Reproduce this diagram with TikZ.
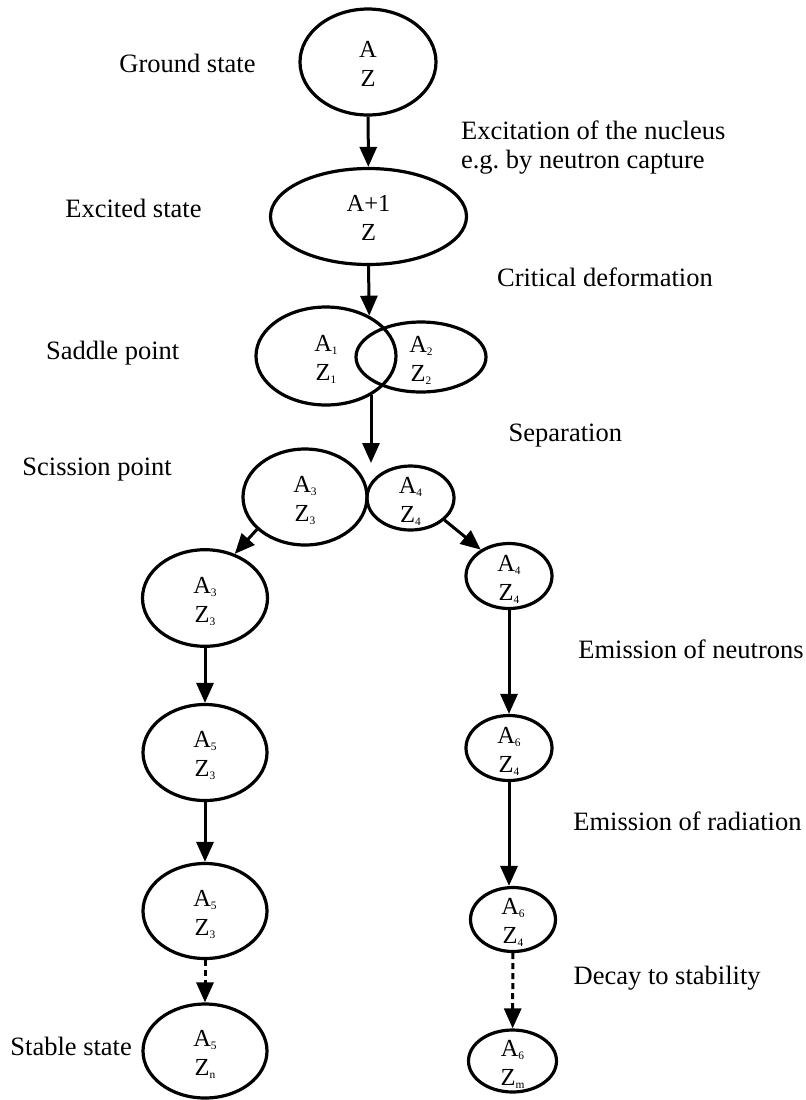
\documentclass[tikz,border=0pt]{standalone}
\usepackage{fontspec}
\setmainfont{Liberation Serif}
\usetikzlibrary{shapes.geometric,arrows.meta}
\frenchspacing
\newcommand{\labfont}{\fontsize{13.25pt}{14.5pt}\selectfont}
\newcommand{\nucfont}{\fontsize{12.25pt}{14.5pt}\selectfont}
\newcommand{\isub}[1]{\raisebox{-1.6pt}{\fontsize{5.7pt}{6pt}\selectfont #1}}
\newcommand{\nuc}[2]{\smash{\raisebox{2.5pt}{\begin{tabular}[t]{@{}c@{}}#1\\#2\end{tabular}}}}
\tikzset{
	nucleus/.style={draw,ellipse,line width=1.6pt,inner sep=0pt,font=\nucfont},
	stage/.style={anchor=base west,inner sep=0pt},
	flow/.style={->,line width=1.5pt},
}
\begin{document}
\begin{tikzpicture}[x=0.5pt,y=-0.5pt,>={Triangle[length=10pt,width=8.5pt]},font=\labfont]
	\useasboundingbox (0,0) rectangle (806,1100);
	% nuclei
	\node[nucleus,minimum width=68pt,minimum height=53pt] (ground) at (368,62) {\nuc{A}{Z}};
	\node[nucleus,minimum width=98pt,minimum height=48pt] (excited) at (368.5,216.5) {\nuc{A+1}{Z}};
	\node[nucleus,minimum width=70pt,minimum height=49pt] (saddleL) at (326,356) {\nuc{A\isub{1}}{Z\isub{1}}};
	\node[nucleus,minimum width=65pt,minimum height=35pt] (saddleR) at (421,357) {\nuc{A\isub{2}}{Z\isub{2}}};
	\node[nucleus,minimum width=62pt,minimum height=48pt] (scisL) at (305,497) {\nuc{A\isub{3}}{Z\isub{3}}};
	\node[nucleus,minimum width=43.5pt,minimum height=32pt] (scisR) at (410.5,498) {\nuc{A\isub{4}}{Z\isub{4}}};
	\node[nucleus,minimum width=62.5pt,minimum height=48.3pt] (colA3) at (205,598) {\nuc{A\isub{3}}{Z\isub{3}}};
	\node[nucleus,minimum width=62pt,minimum height=48pt] (colA5a) at (205,752.5) {\nuc{A\isub{5}}{Z\isub{3}}};
	\node[nucleus,minimum width=62pt,minimum height=47.5pt] (colA5b) at (205,911) {\nuc{A\isub{5}}{Z\isub{3}}};
	\node[nucleus,minimum width=62pt,minimum height=47pt] (stable) at (205,1051) {\nuc{A\isub{5}}{Z\isub{n}}};
	\node[nucleus,minimum width=43pt,minimum height=32.5pt] (colB) at (509,576) {\nuc{A\isub{4}}{Z\isub{4}}};
	\node[nucleus,minimum width=43pt,minimum height=32.5pt] (colC) at (509,748) {\nuc{A\isub{6}}{Z\isub{4}}};
	\node[nucleus,minimum width=42.5pt,minimum height=32pt] (colD) at (513,919.5) {\nuc{A\isub{6}}{Z\isub{4}}};
	\node[nucleus,minimum width=44pt,minimum height=31pt] (colE) at (512.5,1061) {\nuc{A\isub{6}}{Z\isub{m}}};
	% steps
	\coordinate (gap) at (371,463);
	\draw[flow] (ground) -- (excited);
	\draw[flow] (excited.south) -- (saddleL.43);
	\draw[flow] (saddleL.-40 -| gap) -- (gap);
	\draw[flow] (scisL.-146) -- (colA3.56);
	\draw[flow] (scisR.-33) -- (colB.137);
	\draw[flow] (colA3) -- (colA5a);
	\draw[flow] (colA5a) -- (colA5b);
	\draw[flow,dash pattern=on 3pt off 2pt] (colA5b) -- (stable);
	\draw[flow] (colB) -- (colC);
	\draw[flow] (colC.south) -- (colC.south |- colD.north);
	\draw[flow,dash pattern=on 3pt off 2pt] (colD) -- (colE);
	% labels
	\node[stage] (groundlab) at (119,72) {Ground state};
	\node[stage] (excitedlab) at (65,217) {Excited state};
	\node[stage] (saddlelab) at (45.7,359.3) {Saddle point};
	\node[stage] (scissionlab) at (22,475) {Scission point};
	\node[stage] (stablelab) at (10,1055) {Stable state};
	\node[stage,anchor=west,align=left] (excitation) at (460.7,147.6) {Excitation of the nucleus\\e.g. by neutron capture};
	\node[stage] (deformation) at (496.7,286.7) {Critical deformation};
	\node[stage] (separation) at (508.3,441) {Separation};
	\node[stage] (neutrons) at (578,658.3) {Emission of neutrons};
	\node[stage] (radiation) at (573,830) {Emission of radiation};
	\node[stage] (decay) at (573.3,984) {Decay to stability};
\end{tikzpicture}
\end{document}
